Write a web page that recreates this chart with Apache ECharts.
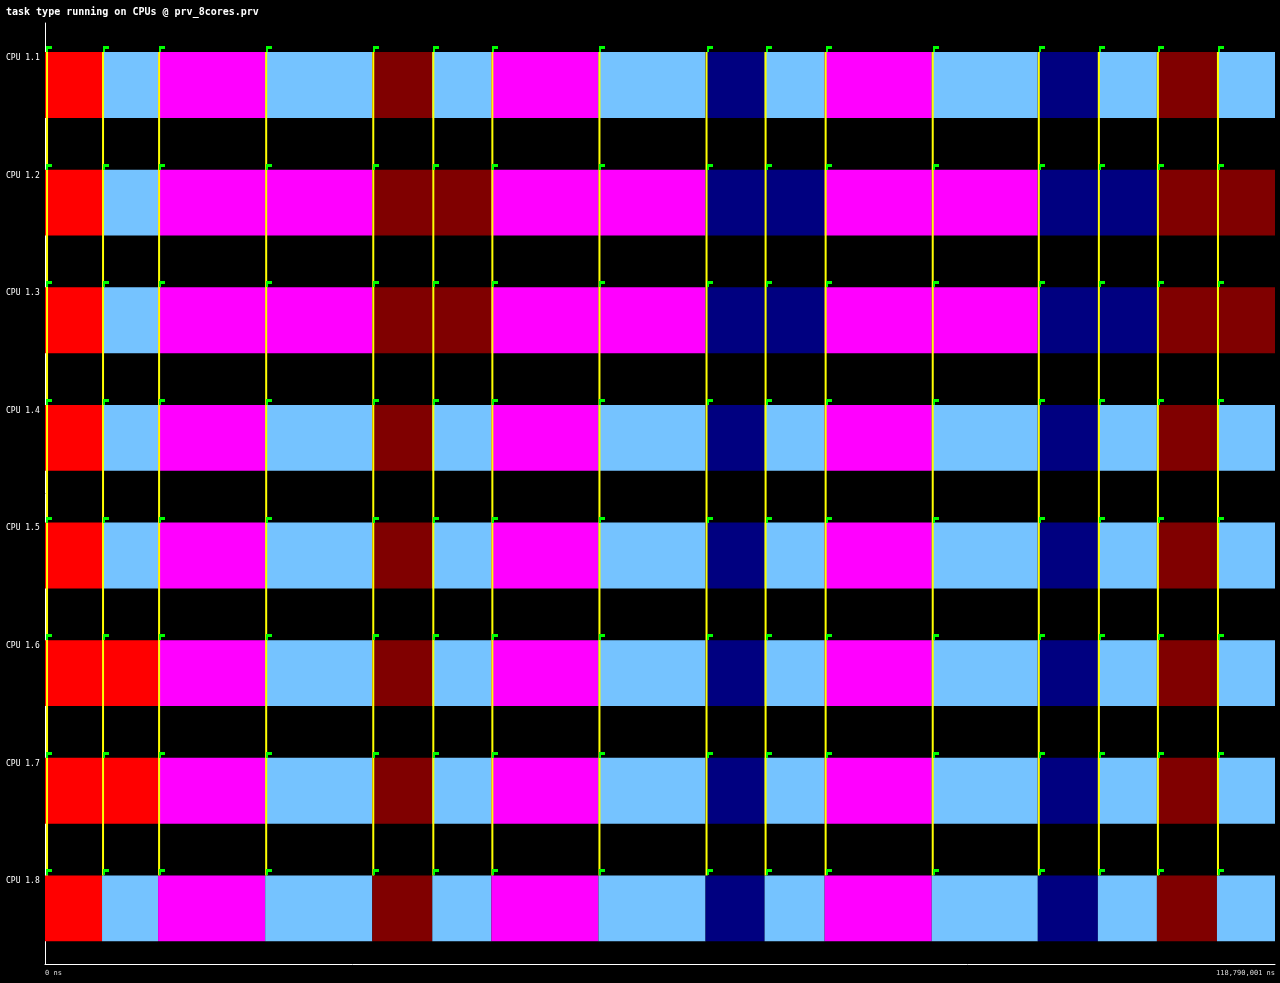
<!DOCTYPE html>
<html>
<head>
<meta charset="utf-8">
<script src="https://cdn.jsdelivr.net/npm/echarts@6/dist/echarts.min.js"></script>
<style>
html,body{margin:0;padding:0;background:#000;}
#chart{width:1280px;height:983px;}
</style>
</head>
<body>
<div id="chart"></div>
<script>
// ---- data ----
const cpus = ['CPU 1.1','CPU 1.2','CPU 1.3','CPU 1.4','CPU 1.5','CPU 1.6','CPU 1.7','CPU 1.8'];
const endTime = 118790001;
// segment boundaries (ns)
const boundaries = [0, 5509000, 10922000, 21264000, 31607000, 37406000, 43109000, 53451000,
  63793000, 69496000, 75295000, 85638000, 95883000, 101683000, 107385000, 113185000, 118790001];
// state names and colours
const stateNames = ['Type A','Type B','Type C','Type D','Type E'];
const stateColors = ['#ff0000','#75c3ff','#ff00ff','#800000','#000080'];
// state per CPU per segment
const cpu11 = [0,1,2,1,3,1,2,1,4,1,2,1,4,1,3,1];
const cpu12 = [0,1,2,2,3,3,2,2,4,4,2,2,4,4,3,3];
const cpu13 = [0,1,2,2,3,3,2,2,4,4,2,2,4,4,3,3];
const cpu14 = [0,1,2,1,3,1,2,1,4,1,2,1,4,1,3,1];
const cpu15 = [0,1,2,1,3,1,2,1,4,1,2,1,4,1,3,1];
const cpu16 = [0,0,2,1,3,1,2,1,4,1,2,1,4,1,3,1];
const cpu17 = [0,0,2,1,3,1,2,1,4,1,2,1,4,1,3,1];
const cpu18 = [0,1,2,1,3,1,2,1,4,1,2,1,4,1,3,1];
const cpuStates = [cpu11,cpu12,cpu13,cpu14,cpu15,cpu16,cpu17,cpu18];
// communications: time (ns), from cpu index, to cpu index
const commTimes = [100000, 5509000, 10922000, 21264000, 31607000, 37406000, 43109000, 53451000,
  63793000, 69496000, 75295000, 85638000, 95883000, 101683000, 107385000, 113185000];
const commFrom = [0,0,0,0,0,0,0,0,0,0,0,0,0,0,0,0];
const commTo   = [7,7,7,7,7,7,7,7,7,7,7,7,7,7,7,7];

// ---- build series data ----
const barData = [];
cpuStates.forEach((st, ci) => {
  st.forEach((s, k) => {
    barData.push({ value: [boundaries[k], boundaries[k+1], ci, s], itemStyle: { color: stateColors[s] } });
  });
});
const flagData = [];
cpuStates.forEach((st, ci) => {
  st.forEach((s, k) => { flagData.push([boundaries[k], ci]); });
});
const commData = commTimes.map((t, i) => [t, commFrom[i], commTo[i]]);

function barRect(api, ci) {
  const c = api.coord([0, ci]);
  const h = api.size([0, 1])[1];
  return { top: c[1] - 0.2534 * h, height: 0.561 * h };
}

const chart = echarts.init(document.getElementById('chart'), null, { renderer: 'canvas' });
chart.setOption({
  backgroundColor: '#000000',
  animation: false,
  title: {
    text: 'task type running on CPUs @ prv_8cores.prv',
    left: 1, top: 2,
    textStyle: { color: '#ffffff', fontSize: 10, fontWeight: 'bold', fontFamily: 'DejaVu Sans Mono' }
  },
  grid: { left: 45, right: 5, top: 23, bottom: 19 },
  xAxis: {
    type: 'value', min: 0, max: endTime,
    splitLine: { show: false },
    axisTick: { show: false },
    axisLine: { show: true, lineStyle: { color: '#ffffff', width: 1 } },
    axisLabel: {
      customValues: [0, endTime],
      alignMinLabel: 'left', alignMaxLabel: 'right',
      color: '#dddddd', fontSize: 7, fontFamily: 'DejaVu Sans Mono', margin: 6,
      formatter: v => v.toLocaleString('en-US') + ' ns'
    }
  },
  yAxis: {
    type: 'category', data: cpus, inverse: true,
    axisTick: { show: false },
    splitLine: { show: false },
    axisLine: { show: true, lineStyle: { color: '#ffffff', width: 1 } },
    axisLabel: {
      color: '#ffffff', fontSize: 8, fontFamily: 'DejaVu Sans Mono',
      align: 'left', margin: 39, verticalAlign: 'bottom', lineHeight: 48
    }
  },
  series: [
    {
      type: 'custom', name: 'states', z: 2,
      renderItem: (params, api) => {
        const s = api.coord([api.value(0), api.value(2)]);
        const e = api.coord([api.value(1), api.value(2)]);
        const r = barRect(api, api.value(2));
        return { type: 'rect', shape: { x: s[0], y: r.top, width: e[0] - s[0], height: r.height },
          style: { fill: stateColors[api.value(3)] } };
      },
      encode: { x: [0, 1], y: 2 },
      data: barData
    },
    {
      type: 'custom', name: 'comms', z: 3,
      renderItem: (params, api) => {
        const a = api.coord([api.value(0), api.value(1)]);
        const b = api.coord([api.value(0), api.value(2)]);
        const ra = barRect(api, api.value(1));
        const rb = barRect(api, api.value(2));
        return { type: 'line', shape: { x1: a[0] + 1, y1: ra.top, x2: b[0] + 1, y2: rb.top },
          style: { stroke: '#ffff00', lineWidth: 2 } };
      },
      encode: { x: 0, y: [1, 2] },
      data: commData
    },
    {
      type: 'custom', name: 'flags', z: 4,
      renderItem: (params, api) => {
        const p = api.coord([api.value(0), api.value(1)]);
        const r = barRect(api, api.value(1));
        const x = Math.round(p[0]) + 1;
        const y = Math.round(r.top);
        return { type: 'group', children: [
          { type: 'rect', shape: { x: x, y: y - 6, width: 2, height: 6 }, style: { fill: '#00ff00' } },
          { type: 'rect', shape: { x: x, y: y - 6, width: 6, height: 3 }, style: { fill: '#00ff00' } }
        ] };
      },
      encode: { x: 0, y: 1 },
      data: flagData
    }
  ]
});
</script>
</body>
</html>
